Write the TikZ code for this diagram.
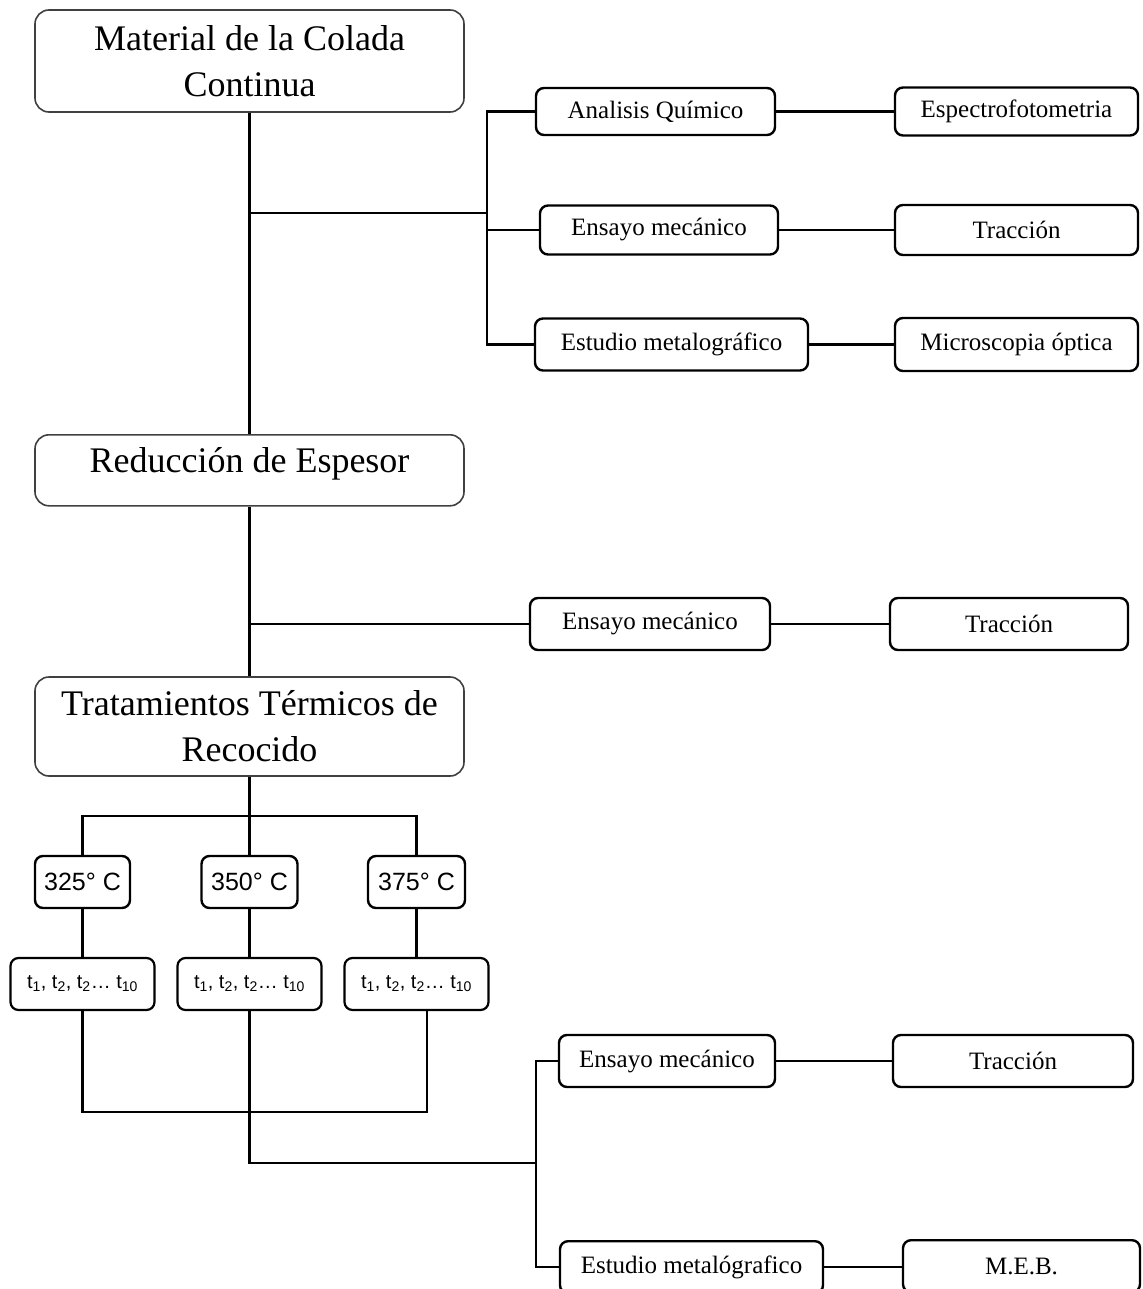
\documentclass[tikz,border=0pt]{standalone}
\usepackage{fontspec}
\setmainfont{Liberation Serif}
\newfontfamily\tempfont{Liberation Sans}
\begin{document}
\begin{tikzpicture}[x=1pt,y=-1pt,
    bigbox/.style={draw=black!75, line width=1.6pt, rounded corners=14pt, inner sep=0pt,
      align=center, font=\fontsize{36}{46}\selectfont, minimum width=429pt},
    smallbox/.style={draw, line width=2.4pt, rounded corners=8pt, inner sep=0pt,
      font=\fontsize{25}{30}\selectfont},
    tempbox/.style={draw, line width=2.4pt, rounded corners=8pt, inner sep=0pt,
      font=\tempfont\fontsize{25}{30}\selectfont, minimum height=52pt},
    timebox/.style={draw, line width=2.2pt, rounded corners=8pt, inner sep=0pt,
      font=\tempfont\fontsize{20}{24}\selectfont, minimum width=144pt, minimum height=52pt},
    conn/.style={line width=2.2pt}]
      \useasboundingbox (0,0) rectangle (1142,1289);
      \draw
        (249.5,61) node[bigbox, minimum height=102pt] (colada){Material de la Colada\\Continua}
        (655.5,111.5) node[smallbox, minimum width=239pt, minimum height=47pt] (quimico){Analisis Químico}
        (659,230) node[smallbox, minimum width=238pt, minimum height=49pt] (mecanicoA){Ensayo mecánico}
        (671.5,344.5) node[smallbox, minimum width=273pt, minimum height=52pt] (metalA){Estudio metalográfico}
        (1016.5,111.5) node[smallbox, minimum width=243pt, minimum height=48pt] (espectro){Espectrofotometria}
        (1016.5,230) node[smallbox, minimum width=243pt, minimum height=50pt] (traccionA){Tracción}
        (1016.5,344.5) node[smallbox, minimum width=243pt, minimum height=53pt] (optica){Microscopia óptica}
        (249.5,434) node[bigbox, anchor=north, text height=38pt, text depth=33pt] (reduccion){Reducción de Espesor}
        (650,624) node[smallbox, minimum width=240pt, minimum height=52pt] (mecanicoB){Ensayo mecánico}
        (1009,624) node[smallbox, minimum width=238pt, minimum height=52pt] (traccionB){Tracción}
        (249.5,726.5) node[bigbox, minimum height=99pt] (recocido){Tratamientos Térmicos de\\Recocido}
        (82.5,882) node[tempbox, minimum width=95pt] (t325){325° C}
        (249.5,882) node[tempbox, minimum width=96pt] (t350){350° C}
        (416.5,882) node[tempbox, minimum width=97pt] (t375){375° C}
        (82.5,984) node[timebox] (tiemposA){t\textsubscript{1}, t\textsubscript{2}, t\textsubscript{2}\dots\ t\textsubscript{10}}
        (249.5,984) node[timebox] (tiemposB){t\textsubscript{1}, t\textsubscript{2}, t\textsubscript{2}\dots\ t\textsubscript{10}}
        (416.5,984) node[timebox] (tiemposC){t\textsubscript{1}, t\textsubscript{2}, t\textsubscript{2}\dots\ t\textsubscript{10}}
        (667,1061) node[smallbox, minimum width=216pt, minimum height=52pt] (mecanicoC){Ensayo mecánico}
        (1013,1061) node[smallbox, minimum width=240pt, minimum height=52pt] (traccionC){Tracción}
        (691.5,1240) node[smallbox, anchor=north, minimum width=263pt, minimum height=52pt] (metalB){Estudio metalógrafico}
        (1021.5,1239) node[smallbox, anchor=north, minimum width=237pt, minimum height=52pt] (meb){M.E.B.};
      % junctions
      \coordinate (s1) at (249.5,213);
      \coordinate (b1) at (487,213);
      \coordinate (s2) at (249.5,624);
      \coordinate (s3) at (249.5,816);
      \coordinate (u1) at (427,1112);
      \coordinate (b4) at (536,1163);
      \begin{scope}[conn]
        \draw (colada) to (reduccion);
        \draw (s1) to (b1);
        \draw (quimico.west) -| (b1) |- (metalA.west);
        \draw (b1 |- mecanicoA.west) to (mecanicoA.west);
        \draw (quimico) to (espectro);
        \draw (mecanicoA) to (traccionA);
        \draw (metalA.east) to (metalA.east -| optica.west);
        \draw (reduccion) to (recocido);
        \draw (s2) to (mecanicoB);
        \draw (mecanicoB) to (traccionB);
        \draw (recocido) to (t350);
        \draw (t325.north) |- (s3) -| (t375.north);
        \draw (t325) to (tiemposA);
        \draw (t350) to (tiemposB);
        \draw (t375) to (tiemposC);
        \draw (tiemposA.south) |- (u1) to (u1 |- tiemposC.south);
        \draw (tiemposB.south) |- (b4);
        \draw (mecanicoC.west) -| (b4) |- (metalB.west);
        \draw (mecanicoC) to (traccionC);
        \draw (metalB.east) to (metalB.east -| meb.west);
      \end{scope}
    \end{tikzpicture}
\end{document}
